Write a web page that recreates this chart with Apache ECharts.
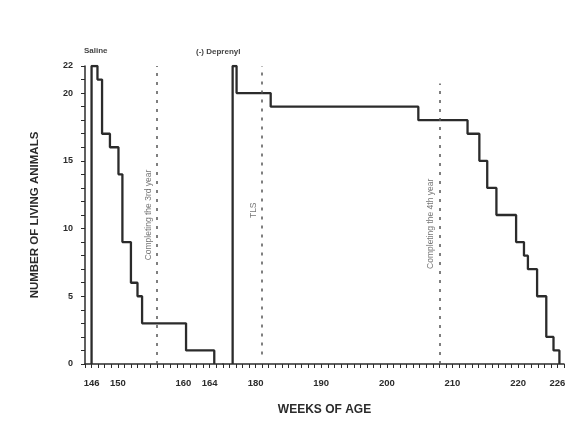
<!DOCTYPE html>
<html>
<head>
<meta charset="utf-8">
<script src="https://cdn.jsdelivr.net/npm/echarts@6/dist/echarts.min.js"></script>
<style>
  html, body { margin: 0; padding: 0; background: #fff; }
  #chart { width: 570px; height: 421px; }
</style>
</head>
<body>
<div id="chart"></div>
<script>
// Survival of rats: number alive against age in weeks
const salineWeeks = [146, 146, 146.9, 147.6, 148.8, 150.1, 150.7, 152.0, 153.0, 153.7, 160.4, 164.7];
const salineAlive = [0, 22, 21, 17, 16, 14, 9, 6, 5, 3, 1, 0];

const deprenylWeeks = [176.5, 176.5, 177.1, 182.3, 204.8, 212.3, 214.1, 215.3, 216.7, 219.7, 220.9, 221.5, 222.9, 224.3, 225.4, 226.3];
const deprenylAlive = [0, 22, 20, 19, 18, 17, 15, 13, 11, 9, 8, 7, 5, 2, 1, 0];

const weekTickLabels = [146, 150, 160, 164, 180, 190, 200, 210, 220, 226];
const aliveTickLabels = [0, 5, 10, 15, 20, 22];

// Reference lines: week, lower end, upper end, caption
const refLineWeeks = [156, 181, 208];
const refLineFrom = [0, 0.7, 0];
const refLineTo = [22, 22, 20.7];
const refLineTexts = ['Completing the 3rd year', 'TLS', 'Completing the 4th year'];

const zip = (xs, ys) => xs.map((x, i) => [x, ys[i]]);

const chart = echarts.init(document.getElementById('chart'), null, { renderer: 'canvas' });

const ink = '#2b2b2b';
const font = 'Liberation Sans, Arial, sans-serif';

chart.setOption({
  backgroundColor: '#ffffff',
  animation: false,
  title: [
    { text: 'Saline', left: 79, top: 42, textStyle: { fontSize: 8, fontWeight: 'bold', color: '#444', fontFamily: font } },
    { text: '(-) Deprenyl', left: 191, top: 43, textStyle: { fontSize: 8, fontWeight: 'bold', color: '#444', fontFamily: font } }
  ],
  grid: { left: 85, right: 6, top: 66, bottom: 56 },
  xAxis: {
    type: 'value',
    min: 145,
    max: 227,
    interval: 1,
    breaks: [{ start: 166, end: 175, gap: 0 }],
    breakArea: { show: false },
    name: 'WEEKS OF AGE',
    nameLocation: 'middle',
    nameGap: 40,
    nameTextStyle: { fontSize: 12, fontWeight: 'bold', color: ink, fontFamily: font },
    axisLine: { lineStyle: { color: ink, width: 1.5 } },
    axisTick: { show: true, length: 4, lineStyle: { color: ink, width: 1 } },
    axisLabel: {
      customValues: weekTickLabels,
      fontSize: 9.5,
      fontWeight: 'bold',
      color: ink,
      fontFamily: font,
      margin: 14
    },
    splitLine: { show: false }
  },
  yAxis: {
    type: 'value',
    min: 0,
    max: 22,
    interval: 1,
    name: 'NUMBER OF LIVING ANIMALS',
    nameLocation: 'middle',
    nameGap: 44,
    nameTextStyle: { fontSize: 11.5, fontWeight: 'bold', color: ink, fontFamily: font },
    axisLine: { show: true, lineStyle: { color: ink, width: 1.5 } },
    axisTick: { show: true, length: 4, lineStyle: { color: ink, width: 1 } },
    axisLabel: {
      customValues: aliveTickLabels,
      fontSize: 9,
      fontWeight: 'bold',
      color: ink,
      fontFamily: font,
      margin: 12
    },
    splitLine: { show: false }
  },
  series: [
    {
      name: 'Saline',
      type: 'line',
      step: 'end',
      data: zip(salineWeeks, salineAlive),
      symbol: 'none',
      lineStyle: { color: ink, width: 2.3 }
    },
    {
      name: '(-) Deprenyl',
      type: 'line',
      step: 'end',
      data: zip(deprenylWeeks, deprenylAlive),
      symbol: 'none',
      lineStyle: { color: ink, width: 2.3 }
    },
    {
      name: 'markers',
      type: 'line',
      data: [],
      markLine: {
        silent: true,
        symbol: ['none', 'none'],
        lineStyle: { color: '#555', width: 1.5, type: [3, 6] },
        label: {
          show: true,
          position: 'insideMiddleTop',
          fontSize: 8.5,
          color: '#777',
          fontFamily: font,
          distance: 4
        },
        data: refLineWeeks.map((w, i) => [
          { coord: [w, refLineFrom[i]], label: { formatter: refLineTexts[i] } },
          { coord: [w, refLineTo[i]] }
        ])
      }
    }
  ]
});
</script>
</body>
</html>
